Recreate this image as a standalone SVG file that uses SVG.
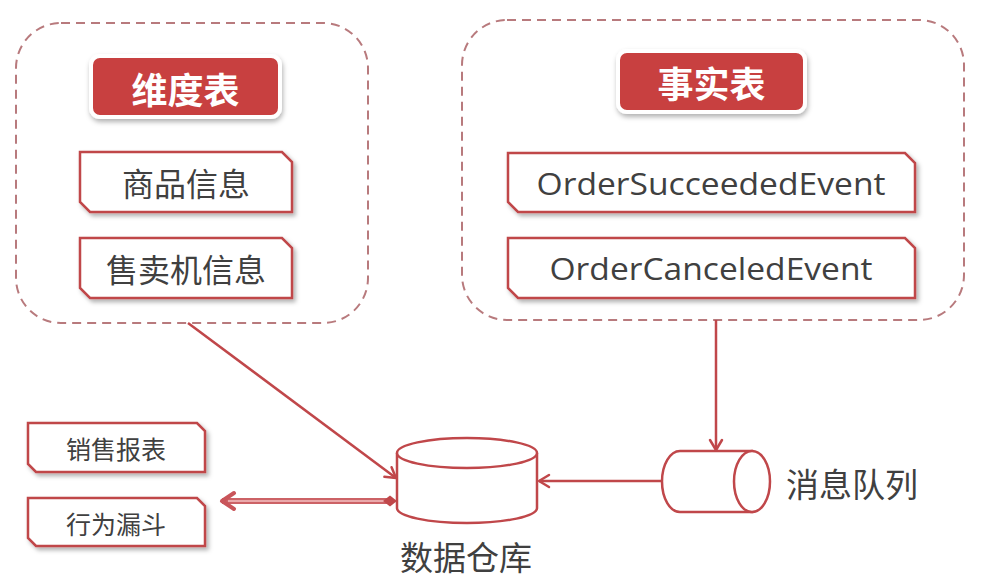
<svg xmlns="http://www.w3.org/2000/svg" width="981" height="581" viewBox="0 0 981 581">
  <defs>
    <filter id="sh" x="-10%" y="-20%" width="125%" height="150%">
      <feDropShadow dx="2.5" dy="3" stdDeviation="2" flood-color="#000" flood-opacity="0.3"/>
    </filter>
    <filter id="shh" x="-10%" y="-20%" width="125%" height="150%">
      <feDropShadow dx="1" dy="3" stdDeviation="2.5" flood-color="#000" flood-opacity="0.3"/>
    </filter>
    <marker id="arr" markerUnits="userSpaceOnUse" markerWidth="16" markerHeight="16" refX="13" refY="8" orient="auto">
      <path d="M3,2 L13,8 L3,14" fill="none" stroke="#c0474a" stroke-width="2.5" stroke-linecap="round" stroke-linejoin="round"/>
    </marker>
    <marker id="arrb" markerUnits="userSpaceOnUse" markerWidth="22" markerHeight="22" refX="17" refY="11" orient="auto">
      <path d="M5,3 L17,11 L5,19" fill="none" stroke="#c9555a" stroke-width="4" stroke-linecap="round" stroke-linejoin="round"/>
    </marker>
  </defs>
  <style>
    .grp { fill: none; stroke: #b87a7d; stroke-width: 2; stroke-dasharray: 9 6; }
    .hdr { fill: #c8403f; stroke: #ffffff; stroke-width: 4; filter: url(#shh); }
    .hdrt { fill: #ffffff; font-family: "Noto Sans CJK SC", sans-serif; font-weight: bold; font-size: 36px; text-anchor: middle; dominant-baseline: central; }
    .item { fill: #ffffff; stroke: #c0474a; stroke-width: 2.5; filter: url(#sh); }
    .it { fill: #404040; font-family: "Noto Sans CJK SC", sans-serif; font-size: 32px; text-anchor: middle; dominant-baseline: central; }
    .en { fill: #404040; font-family: "Open Sans", "Liberation Sans", sans-serif; font-size: 31px; text-anchor: middle; dominant-baseline: central; }
    .sm { fill: #404040; font-family: "Noto Sans CJK SC", sans-serif; font-size: 25px; text-anchor: middle; dominant-baseline: central; }
    .lbl { fill: #404040; font-family: "Noto Sans CJK SC", sans-serif; font-size: 33px; dominant-baseline: central; }
    .cyl { fill: #ffffff; stroke: #c0474a; stroke-width: 2.5; }
    .ln { fill: none; stroke: #c0474a; stroke-width: 2.5; }
  </style>

  <g id="dimension-group">
    <rect class="grp" x="16" y="23" width="352" height="300" rx="45" ry="45"/>
    <g id="dim-header">
      <rect class="hdr" x="91" y="56" width="189" height="61" rx="9" ry="9"/>
      <text class="hdrt" x="185.5" y="88">维度表</text>
    </g>
    <g id="product-info">
      <path class="item" d="M80,152 L282,152 L292,162 L292,212 L90,212 L80,202 Z"/>
      <text class="it" x="186" y="182">商品信息</text>
    </g>
    <g id="vending-info">
      <path class="item" d="M80,238 L282,238 L292,248 L292,298 L90,298 L80,288 Z"/>
      <text class="it" x="186" y="268">售卖机信息</text>
    </g>
  </g>

  <g id="fact-group">
    <rect class="grp" x="462" y="20" width="502" height="300" rx="45" ry="45"/>
    <g id="fact-header">
      <rect class="hdr" x="618" y="51" width="187" height="61" rx="9" ry="9"/>
      <text class="hdrt" x="711.5" y="82">事实表</text>
    </g>
    <g id="order-succeeded">
      <path class="item" d="M508,153 L905,153 L915,163 L915,212 L518,212 L508,202 Z"/>
      <text class="en" x="711" y="183" textLength="349" lengthAdjust="spacingAndGlyphs">OrderSucceededEvent</text>
    </g>
    <g id="order-canceled">
      <path class="item" d="M508,238 L905,238 L915,248 L915,298 L518,298 L508,288 Z"/>
      <text class="en" x="711" y="268" textLength="323" lengthAdjust="spacingAndGlyphs">OrderCanceledEvent</text>
    </g>
  </g>

  <g id="sales-report">
    <path class="item" d="M28,423 L197,423 L205,431 L205,472 L36,472 L28,464 Z"/>
    <text class="sm" x="116" y="448">销售报表</text>
  </g>
  <g id="behavior-funnel">
    <path class="item" d="M28,498 L197,498 L205,506 L205,546 L36,546 L28,538 Z"/>
    <text class="sm" x="116" y="523">行为漏斗</text>
  </g>

  <g id="data-warehouse">
    <path class="cyl" d="M397,453 L397,508 A70,15 0 0 0 537,508 L537,453"/>
    <ellipse class="cyl" cx="467" cy="453" rx="70" ry="15"/>
    <text class="sm" x="466" y="556" style="font-size:33px">数据仓库</text>
  </g>

  <g id="message-queue">
    <path class="cyl" d="M680,451 L752,451 L752,512 L680,512 A18,30.5 0 0 1 680,451 Z"/>
    <ellipse class="cyl" cx="752" cy="481.5" rx="18" ry="30.5"/>
    <text class="lbl" x="786" y="483">消息队列</text>
  </g>

  <g id="connectors">
    <line class="ln" x1="188" y1="323" x2="396" y2="478" marker-end="url(#arr)"/>
    <line class="ln" x1="716" y1="320" x2="716" y2="450" marker-end="url(#arr)"/>
    <line class="ln" x1="662" y1="481" x2="539" y2="481" marker-end="url(#arr)"/>
    <line x1="390" y1="501" x2="222" y2="501" stroke="#cc6266" stroke-width="6" marker-end="url(#arrb)"/>
    <line x1="388" y1="501" x2="228" y2="501" stroke="#eaa9ab" stroke-width="2"/>
    <path d="M383,501 L390,495.5 L397,501 L390,506.5 Z" fill="#c0474a"/>
  </g>
</svg>
